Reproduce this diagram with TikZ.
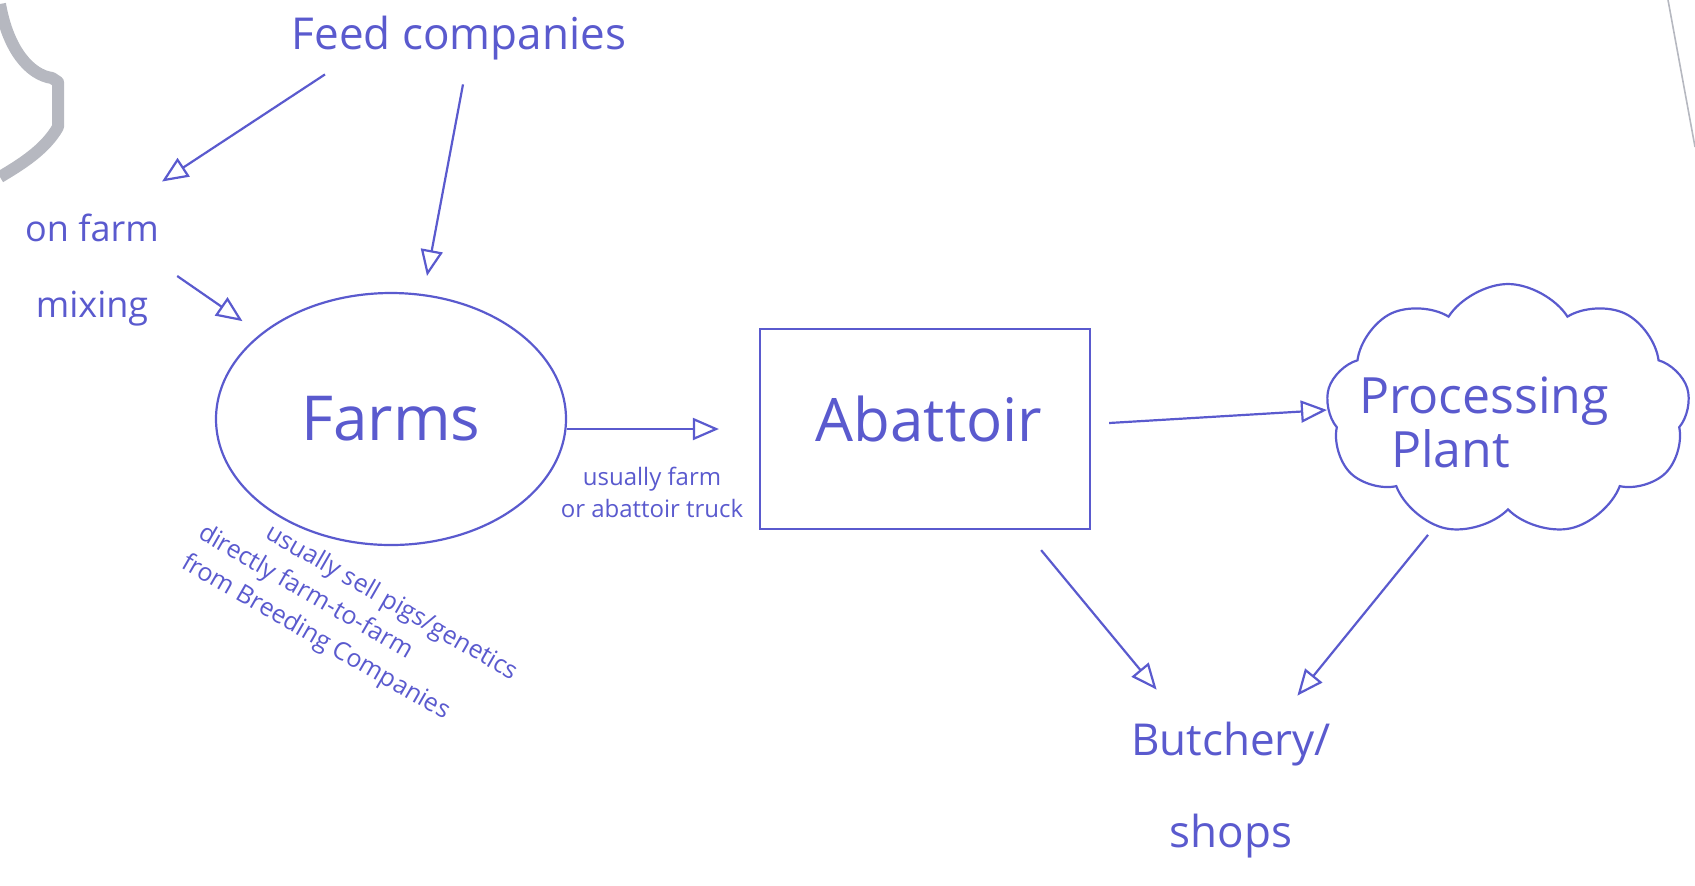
\documentclass[tikz,border=0pt]{standalone}
\usepackage{fontspec}
\setmainfont{Open Sans}
\usetikzlibrary{shapes.geometric,shapes.symbols,arrows.meta,positioning}
\definecolor{ink}{RGB}{90,90,206}
\definecolor{smudge}{RGB}{182,184,192}
\tikzset{
  flow/.style={draw=ink, line width=1.1pt, -{Triangle[open,length=13pt,width=11pt,line width=1.1pt]}},
  outline/.style={draw=ink, line width=1.1pt}
}

\begin{document}
\begin{tikzpicture} [
        x = 0.5pt, y = -0.5pt,
        every node/.style = { text = ink, inner sep = 0 }
        ]
        \useasboundingbox (0,0) rectangle (1695,885);

        % marks left by the scan
        \draw [smudge, line width = 6pt, line join = round]
          (0,4) .. controls (8,50) and (30,75) .. (52,78) -- (58,82) -- (58,127)
          .. controls (45,150) and (20,165) .. (0,177);
        \draw [smudge, line width = 0.8pt] (1668,0) -- (1695,147);

        \node [font = \fontsize{22}{26}\selectfont] (feed) at (459,38) {Feed companies};
        \node [align = center, font = \fontsize{18}{38}\selectfont] (onfarm) at (92,270) {on farm\\mixing};
        \node [outline, ellipse, minimum width = 175pt, minimum height = 126pt,
          font = \fontsize{31}{36}\selectfont] (farms) at (391,419) {Farms};
        \node [outline, rectangle, minimum width = 165pt, minimum height = 100pt,
          label = {[font = \fontsize{30}{36}\selectfont, text = ink, yshift = 5pt, xshift = 2pt]center:Abattoir}]
          (abattoir) at (925,429) {};
        \node [outline, cloud, cloud puffs = 9, cloud puff arc = 115, cloud ignores aspect,
          minimum width = 182pt, minimum height = 126pt,
          label = {[align = left, font = \fontsize{25}{27}\selectfont, text = ink, xshift = -12pt, yshift = -6pt]center:Processing\\\hspace*{16pt}Plant}]
          (plant) at (1508,410) {};
        \node [align = center, font = \fontsize{22}{46}\selectfont] (butchery) at (1231,790) {Butchery/\\shops};
        \node [align = center, font = \fontsize{12}{16}\selectfont] (truck) at (652,492)
          {usually farm\\or abattoir truck};
        \node [align = left, rotate = -30, anchor = west, font = \fontsize{12.5}{17}\selectfont] (breeders) at (200,532)
          {\hspace*{29pt}usually sell pigs/genetics\\directly farm-to-farm\\from Breeding Companies};

        \draw [flow] ([xshift = -67pt, yshift = -7pt]feed.south) -- ([xshift = 35pt, yshift = 16pt]onfarm.north);
        \draw [flow] ([xshift = 2pt, yshift = -12pt]feed.south) -- ([xshift = 18pt, yshift = 8pt]farms.north);
        \draw [flow] ([xshift = 9pt, yshift = -3pt]onfarm.east) -- ([xshift = -12pt, yshift = 4pt]farms.north west);
        \draw [flow] ([yshift = -5pt]farms.east) -- ([xshift = -20pt]abattoir.west);
        \draw [flow] ([xshift = 9pt, yshift = 3pt]abattoir.east) -- (plant.west);
        \draw [flow] ([xshift = -25pt, yshift = -10pt]abattoir.south east) -- ([xshift = 13pt, yshift = 16pt]butchery.north west);
        \draw [flow] ([xshift = -40pt, yshift = -12pt]plant.south) -- ([xshift = -17pt, yshift = 13pt]butchery.north east);
    \end{tikzpicture}
\end{document}
